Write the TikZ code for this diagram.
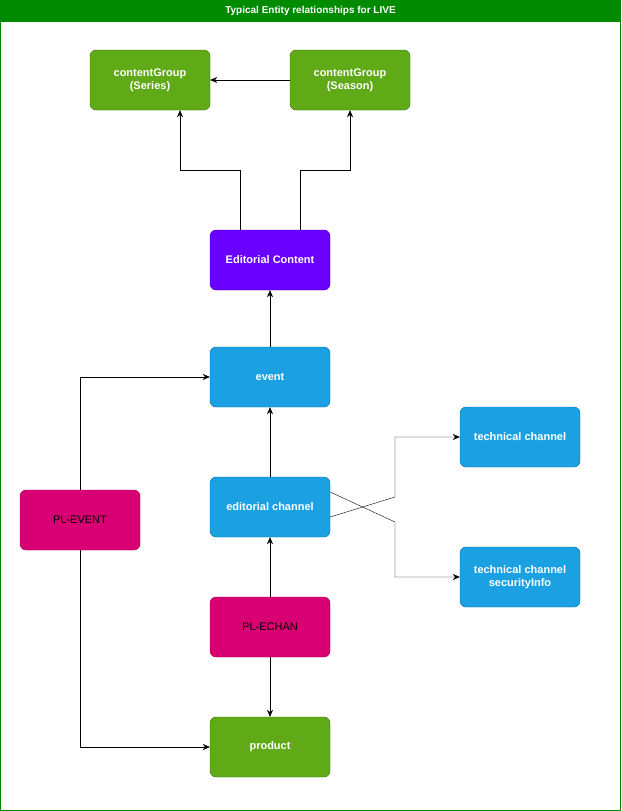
\documentclass[tikz,border=0pt]{standalone}
\usepackage{fontspec}
\setmainfont{Liberation Sans}
\usetikzlibrary{positioning,arrows.meta}
\definecolor{grnfill}{HTML}{60A917}
\definecolor{grnline}{HTML}{2D7600}
\definecolor{purfill}{HTML}{6A00FF}
\definecolor{purline}{HTML}{3700CC}
\definecolor{blufill}{HTML}{1BA1E2}
\definecolor{bluline}{HTML}{006EAF}
\definecolor{pnkfill}{HTML}{D80073}
\definecolor{pnkline}{HTML}{A50040}
\definecolor{frame}{HTML}{008A00}
\tikzset{
  box/.style={rounded corners=6pt, minimum width=120pt, minimum height=60pt,
    align=center, font=\fontsize{11}{13}\selectfont\bfseries, text=white, inner sep=2pt},
  grn/.style={box, fill=grnfill, draw=grnline},
  pur/.style={box, fill=purfill, draw=purline},
  blu/.style={box, fill=blufill, draw=bluline},
  pnk/.style={box, fill=pnkfill, draw=pnkline, text=black, font=\fontsize{11}{13}\selectfont},
  link/.style={-{Stealth[length=7pt,width=6pt]}, black}
}
\begin{document}
\begin{tikzpicture}[x=1pt,y=-1pt]
\useasboundingbox (0,0) rectangle (621,811);
% frame and title
\draw[frame, fill=white] (0.5,0.5) rectangle (620.5,810.5);
\fill[frame] (0.5,0.5) rectangle (620.5,22);
\node[text=white, font=\fontsize{10}{12}\selectfont\bfseries] (title) at (310.5,11) {Typical Entity relationships for LIVE};
% nodes
\node[grn] (series) at (150,80) {contentGroup\\(Series)};
\node[grn] (season) at (350,80) {contentGroup\\(Season)};
\node[pur] (edcont) at (270,260) {Editorial Content};
\node[blu] (event) at (270,377) {event};
\node[blu] (edchan) at (270,507) {editorial channel};
\node[blu] (techchan) at (520,437) {technical channel};
\node[blu] (techsec) at (520,577) {technical channel\\securityInfo};
\node[pnk] (plevent) at (80,520) {PL-EVENT};
\node[pnk] (plechan) at (270,627) {PL-ECHAN};
\node[grn] (product) at (270,747) {product};
% connectors
\draw[link] (season) -- (series);
\draw[link] ([xshift=-30pt]edcont.north) |- (180,170) -- ([xshift=30pt]series.south);
\draw[link] ([xshift=30pt]edcont.north) |- (350,170) -- (season.south);
\draw[link] (event) -- (edcont);
\draw[link] (edchan) -- (event);
\draw[link] (plechan) -- (edchan);
\draw[link] (plechan) -- (product);
\draw[link] ([yshift=-10pt]edchan.east) -- (395,497) |- (techchan.west);
\draw[link] ([yshift=15pt]edchan.east) -- (395,522) |- (techsec.west);
\draw[link] (plevent.north) |- (event.west);
\draw[link] (plevent.south) |- (product.west);
\end{tikzpicture}
\end{document}
